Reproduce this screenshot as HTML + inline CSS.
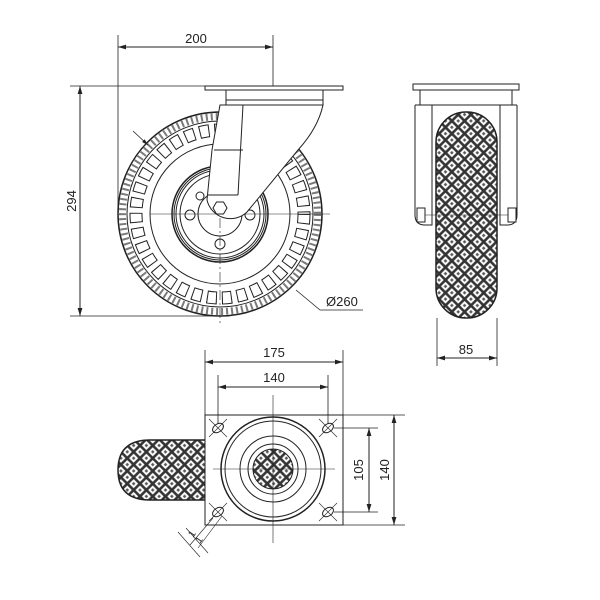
<!DOCTYPE html>
<html><head><style>body{margin:0;background:#fff}svg{display:block}text{font-family:"Liberation Sans",sans-serif;font-size:13px;fill:#222}</style></head><body>
<svg width="600" height="600" viewBox="0 0 600 600" xmlns="http://www.w3.org/2000/svg">
<defs>
<marker id="a" viewBox="0 0 10 6" refX="10" refY="3" markerWidth="8" markerHeight="5" orient="auto-start-reverse"><path d="M0,0L10,3L0,6z" fill="#222"/></marker>
<pattern id="dia" width="9" height="9" patternUnits="userSpaceOnUse" patternTransform="rotate(45)"><rect width="9" height="9" fill="#333"/><rect x="1.3" y="1.3" width="6.4" height="6.4" fill="#fff"/><rect x="3.2" y="3.2" width="2.6" height="2.6" fill="#555"/></pattern>
<clipPath id="bw"><path d="M205,440 L150,440 Q118,440 118,470 Q118,500 150,500 L205,500Z"/></clipPath>
</defs>
<g stroke="#222" fill="none" stroke-width="1">
<line x1="118" y1="35" x2="118" y2="222" stroke-width=".8"/>
<line x1="273" y1="35" x2="273" y2="96" stroke-width=".8"/>
<line x1="118" y1="47" x2="273" y2="47" marker-start="url(#a)" marker-end="url(#a)"/>
<line x1="70" y1="86" x2="210" y2="86" stroke-width=".8"/>
<line x1="70" y1="316" x2="220" y2="316" stroke-width=".8"/>
<line x1="80" y1="86" x2="80" y2="316" marker-start="url(#a)" marker-end="url(#a)"/>
<circle cx="220" cy="214" r="102" stroke-width="1.5"/>
<circle cx="220" cy="214" r="97.5" stroke-width="7" stroke-dasharray="2 3" opacity=".6"/>
<circle cx="220" cy="214" r="93"/>
<circle cx="220" cy="214" r="84" stroke-width="13" stroke-dasharray="10 5"/>
<circle cx="220" cy="214" r="84" stroke="#fff" stroke-width="11" stroke-dasharray="8 7" stroke-dashoffset="-1"/>
<circle cx="220" cy="214" r="70"/>
<circle cx="220" cy="214" r="48" stroke-width="1.5"/>
<circle cx="220" cy="214" r="46"/>
<circle cx="220" cy="214" r="44"/>
<circle cx="220" cy="214" r="40"/>
<circle cx="220" cy="214" r="22"/>
<circle cx="190" cy="215" r="5"/><circle cx="250" cy="215" r="5"/><circle cx="220" cy="244" r="5"/><circle cx="200" cy="196" r="4"/>
<line x1="150" y1="214" x2="330" y2="214" stroke-width=".6"/>
<line x1="220" y1="110" x2="220" y2="325" stroke-width=".6" stroke-dasharray="10 3 2 3"/>
<path d="M225,113 A102,102 0 0 1 300,140" stroke-width=".6"/>
<path d="M220,105 L323,105 Q318,128 298,150 L247,212 A24,24 0 0 1 207,200 L212,150 Z" fill="#fff"/>
<line x1="214" y1="150" x2="243" y2="150"/>
<line x1="243" y1="105" x2="238" y2="195"/>
<line x1="208" y1="195" x2="238" y2="195"/>
<polygon points="213,208 216.5,202 223.5,202 227,208 223.5,214 216.5,214" fill="#fff"/>
<rect x="226" y="90" width="97" height="15" fill="#fff"/>
<line x1="226" y1="100" x2="323" y2="100"/>
<rect x="205" y="86" width="138" height="4" fill="#fff"/>
<path d="M296,290 L320,310 L363,310" stroke-width=".8"/>
<line x1="133" y1="131" x2="148" y2="145" stroke-width=".8" marker-end="url(#a)"/>
<!-- side view -->
<rect x="413" y="84" width="106" height="6"/>
<rect x="420" y="90" width="92" height="15"/>
<path d="M415,105 L415,215 Q415,225 425,225 L432,225 L432,105 M517,105 L517,215 Q517,225 507,225 L500,225 L500,105"/>
<path d="M415,105 L517,105"/>
<rect x="436" y="112" width="61" height="206" rx="30" fill="url(#dia)"/>
<rect x="436" y="112" width="61" height="206" rx="30" stroke-width="1.5"/>
<rect x="417" y="208" width="8" height="14" fill="#fff"/><rect x="508" y="208" width="8" height="14" fill="#fff"/>
<line x1="425" y1="215" x2="508" y2="215" stroke-width=".6"/>
<line x1="437" y1="318" x2="437" y2="366" stroke-width=".8"/>
<line x1="497" y1="318" x2="497" y2="366" stroke-width=".8"/>
<line x1="437" y1="358" x2="497" y2="358" marker-start="url(#a)" marker-end="url(#a)"/>
<!-- bottom view -->
<rect x="118" y="440" width="87" height="60" fill="url(#dia)" clip-path="url(#bw)"/>
<path d="M205,440 L150,440 Q118,440 118,470 Q118,500 150,500 L205,500" stroke-width="1.5"/>
<rect x="205" y="415" width="138" height="110" fill="#fff"/>
<circle cx="273" cy="469" r="52" stroke-width="1.5"/>
<circle cx="273" cy="469" r="48"/>
<circle cx="273" cy="469" r="33"/>
<circle cx="273" cy="469" r="25"/>
<circle cx="273" cy="469" r="20" fill="url(#dia)"/>
<line x1="213" y1="469" x2="335" y2="469" stroke-width=".6"/>
<line x1="273" y1="395" x2="273" y2="543" stroke-width=".6"/>
<g fill="#fff">
<ellipse cx="218" cy="428" rx="6" ry="4" transform="rotate(-35 218 428)"/>
<ellipse cx="328" cy="428" rx="6" ry="4" transform="rotate(-35 328 428)"/>
<ellipse cx="218" cy="512" rx="6" ry="4" transform="rotate(-35 218 512)"/>
<ellipse cx="328" cy="512" rx="6" ry="4" transform="rotate(-35 328 512)"/>
</g>
<g stroke-width=".6">
<path d="M209,419 L227,437 M227,419 L209,437 M319,419 L337,437 M337,419 L319,437 M209,503 L227,521 M227,503 L209,521 M319,503 L337,521 M337,503 L319,521"/>
<path d="M213,518 L190,545 M222,516 L198,548 M178,532 L200,557 M186,528 L208,553"/>
</g>
<line x1="205" y1="350" x2="205" y2="415" stroke-width=".8"/>
<line x1="343" y1="350" x2="343" y2="415" stroke-width=".8"/>
<line x1="205" y1="362" x2="343" y2="362" marker-start="url(#a)" marker-end="url(#a)"/>
<line x1="218" y1="375" x2="218" y2="424" stroke-width=".8"/>
<line x1="328" y1="375" x2="328" y2="424" stroke-width=".8"/>
<line x1="218" y1="387" x2="328" y2="387" marker-start="url(#a)" marker-end="url(#a)"/>
<line x1="343" y1="415" x2="405" y2="415" stroke-width=".8"/>
<line x1="343" y1="525" x2="405" y2="525" stroke-width=".8"/>
<line x1="334" y1="428" x2="378" y2="428" stroke-width=".8"/>
<line x1="334" y1="512" x2="378" y2="512" stroke-width=".8"/>
<line x1="394" y1="415" x2="394" y2="525" marker-start="url(#a)" marker-end="url(#a)"/>
<line x1="369" y1="428" x2="369" y2="512" marker-start="url(#a)" marker-end="url(#a)"/>
</g>
<text x="196" y="43" text-anchor="middle">200</text>
<text transform="translate(76,201) rotate(-90)" text-anchor="middle">294</text>
<text x="326" y="306">Ø260</text>
<text x="466" y="354" text-anchor="middle">85</text>
<text x="274" y="357" text-anchor="middle">175</text>
<text x="274" y="382" text-anchor="middle">140</text>
<text transform="translate(363,470) rotate(-90)" text-anchor="middle">105</text>
<text transform="translate(389,470) rotate(-90)" text-anchor="middle">140</text>
<text transform="translate(193,538) rotate(-55)" style="font-size:10px">1</text>
<text transform="translate(200,544) rotate(-55)" style="font-size:10px">1</text>
</svg>
</body></html>
